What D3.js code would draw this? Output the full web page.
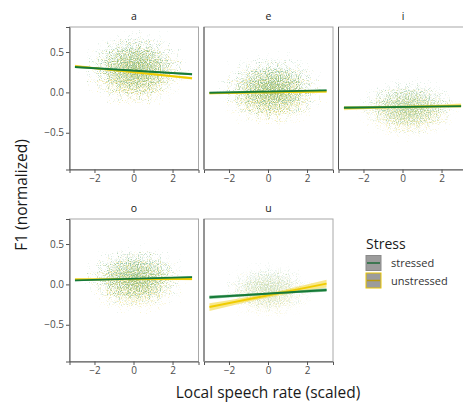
<!DOCTYPE html>
<html>
<head>
<meta charset="utf-8">
<script src="https://cdn.jsdelivr.net/npm/d3@7"></script>
<style>
  body { margin: 0; background: #fff; }
  text { font-family: "Open Sans", "Noto Sans", sans-serif; }
</style>
</head>
<body>
<svg id="chart" width="463" height="403"></svg>
<script>
// ---- data ----
var vowels = ['a', 'e', 'i', 'o', 'u'];
var stressLevels = ['stressed', 'unstressed'];
var xTicks = [-2, 0, 2];
var yTicks = [-0.5, 0, 0.5];

// fitted line: F1 at rate = -3 and rate = +3, per vowel
var fitStressedStart   = [0.315, -0.005, -0.19, 0.05, -0.16];
var fitStressedEnd     = [0.225,  0.025, -0.17, 0.09, -0.07];
var fitUnstressedStart = [0.325, -0.010, -0.195, 0.062, -0.28];
var fitUnstressedEnd   = [0.175,  0.012, -0.165, 0.066,  0.01];
// ribbon half width at the ends
var ciStressed   = [0.014, 0.010, 0.014, 0.012, 0.022];
var ciUnstressed = [0.016, 0.012, 0.026, 0.014, 0.048];

// point clouds: centre and reach (data units), per vowel
var cloudMeanX = [0.1, 0.2, 0.3, 0.1, 0.0];
var cloudMeanY = [0.28, 0.02, -0.2, 0.06, -0.08];
var cloudSpreadX = [3.3, 3.4, 3.3, 3.2, 3.0];
var cloudSpreadY = [0.58, 0.55, 0.45, 0.52, 0.42];
var cloudStrength = [0.95, 0.95, 0.7, 0.9, 0.42];

var lineColor = { stressed: '#167a38', unstressed: '#f0cc00' };
var ribbonColor = { stressed: '#3f9e5e', unstressed: '#f3d940' };
var dotColor = { stressed: '#2f8f52', unstressed: '#e3c81e' };

// ---- layout ----
var svg = d3.select('#chart');
var panelW = 129, panelH = 142.5;
var colLeft = [69.5, 204, 338.5];
var rowTop = [27, 219];

var x = d3.scaleLinear().domain([-3.28, 3.33]).range([0, panelW]);
var y = d3.scaleLinear().domain([-0.955, 0.81]).range([panelH, 0]);

var defs = svg.append('defs');

var grad = defs.append('radialGradient').attr('id', 'cloudGrad');
grad.append('stop').attr('offset', '0%').attr('stop-color', '#000').attr('stop-opacity', 1);
grad.append('stop').attr('offset', '40%').attr('stop-color', '#000').attr('stop-opacity', 0.8);
grad.append('stop').attr('offset', '75%').attr('stop-color', '#000').attr('stop-opacity', 0.45);
grad.append('stop').attr('offset', '100%').attr('stop-color', '#000').attr('stop-opacity', 0.15);

// speckle filter: noise masked by the cloud's alpha -> scattered dots
stressLevels.forEach(function (s, si) {
    var f = defs.append('filter').attr('id', 'speck-' + s)
        .attr('x', '-5%').attr('y', '-5%').attr('width', '110%').attr('height', '110%');
    f.append('feTurbulence').attr('type', 'fractalNoise')
        .attr('baseFrequency', 0.9).attr('numOctaves', 1).attr('seed', 4 + si * 7)
        .attr('result', 'n');
    f.append('feColorMatrix').attr('in', 'n').attr('type', 'matrix')
        .attr('values', '0 0 0 0 0  0 0 0 0 0  0 0 0 0 0  0 0 0 1 0').attr('result', 'na');
    f.append('feComposite').attr('in', 'na').attr('in2', 'SourceAlpha')
        .attr('operator', 'arithmetic').attr('k2', 1).attr('k3', 0.62).attr('k4', -0.94)
        .attr('result', 'm');
    f.append('feColorMatrix').attr('in', 'm').attr('type', 'matrix')
        .attr('values', '0 0 0 0 0  0 0 0 0 0  0 0 0 0 0  0 0 0 4 0').attr('result', 'mt');
    f.append('feFlood').attr('flood-color', dotColor[s]).attr('flood-opacity', 0.5);
    f.append('feComposite').attr('in2', 'mt').attr('operator', 'in');
});

vowels.forEach(function (v, i) {
    var col = i % 3, row = Math.floor(i / 3);
    var g = svg.append('g')
        .attr('transform', 'translate(' + colLeft[col] + ',' + rowTop[row] + ')');

    defs.append('clipPath').attr('id', 'clip-' + v)
        .append('rect').attr('width', panelW).attr('height', panelH);

    // strip label
    g.append('text').attr('x', panelW / 2).attr('y', -7)
        .attr('text-anchor', 'middle').attr('font-size', 10.5).attr('fill', '#1a1a1a')
        .text(v);

    var plot = g.append('g').attr('clip-path', 'url(#clip-' + v + ')');

    // point clouds (unstressed underneath)
    stressLevels.slice().reverse().forEach(function (s) {
        var shift = s === 'stressed' ? 0.025 : -0.03;
        plot.append('ellipse')
            .attr('cx', x(cloudMeanX[i]))
            .attr('cy', y(cloudMeanY[i] + shift))
            .attr('rx', x(cloudSpreadX[i]) - x(0))
            .attr('ry', y(0) - y(cloudSpreadY[i]))
            .attr('fill', 'url(#cloudGrad)')
            .attr('opacity', cloudStrength[i])
            .attr('filter', 'url(#speck-' + s + ')');
    });

    // ribbons and lines
    var fits = [
        { s: 'unstressed', a: fitUnstressedStart[i], b: fitUnstressedEnd[i], ci: ciUnstressed[i] },
        { s: 'stressed', a: fitStressedStart[i], b: fitStressedEnd[i], ci: ciStressed[i] }
    ];
    fits.forEach(function (f) {
        var pts = [-3, 0, 3].map(function (r) {
            var t = (r + 3) / 6;
            var mid = f.a + (f.b - f.a) * t;
            var w = f.ci * (0.55 + 0.45 * Math.abs(r) / 3);
            return { r: r, mid: mid, lo: mid - w, hi: mid + w };
        });
        plot.append('path')
            .attr('d', d3.area().x(function (d) { return x(d.r); })
                .y0(function (d) { return y(d.lo); })
                .y1(function (d) { return y(d.hi); })
                .curve(d3.curveMonotoneX)(pts))
            .attr('fill', ribbonColor[f.s]).attr('opacity', 0.6);
    });
    fits.forEach(function (f) {
        plot.append('line')
            .attr('x1', x(-3)).attr('y1', y(f.a))
            .attr('x2', x(3)).attr('y2', y(f.b))
            .attr('stroke', lineColor[f.s]).attr('stroke-width', 1.9);
    });

    // panel border
    g.append('rect').attr('width', panelW).attr('height', panelH)
        .attr('fill', 'none').attr('stroke', '#a8a8a8').attr('stroke-width', 1);

    // axes
    var xa = g.append('g').attr('transform', 'translate(0,' + panelH + ')')
        .call(d3.axisBottom(x).tickValues(xTicks).tickSize(3.5).tickPadding(2)
            .tickFormat(function (d) { return d3.format('d')(d).replace('-', '\u2212'); }));
    xa.select('.domain').attr('stroke', '#555');
    xa.selectAll('.tick line').attr('stroke', '#555');
    xa.selectAll('.tick text').attr('font-size', 10).attr('fill', '#4d4d4d')
        .attr('font-family', '"Open Sans", sans-serif');

    if (col === 0) {
        var ya = g.append('g')
            .call(d3.axisLeft(y).tickValues(yTicks).tickSize(3.5).tickPadding(2)
                .tickFormat(function (d) { return d3.format('.1f')(d).replace('-', '\u2212'); }));
        ya.selectAll('.tick line').attr('stroke', '#555');
        ya.selectAll('.tick text').attr('font-size', 10).attr('fill', '#4d4d4d')
            .attr('font-family', '"Open Sans", sans-serif');
        ya.select('.domain').attr('stroke', '#555');
    } else {
        g.append('line').attr('x1', 0).attr('x2', 0).attr('y1', 0).attr('y2', panelH)
            .attr('stroke', '#555');
    }
});

// axis titles
svg.append('text').attr('x', 268).attr('y', 398)
    .attr('text-anchor', 'middle').attr('font-size', 15.5).attr('fill', '#1a1a1a')
    .text('Local speech rate (scaled)');
svg.append('text')
    .attr('transform', 'translate(27,195) rotate(-90)')
    .attr('text-anchor', 'middle').attr('font-size', 15.5).attr('fill', '#1a1a1a')
    .text('F1 (normalized)');

// legend
var leg = svg.append('g').attr('transform', 'translate(366,238)');
leg.append('text').attr('x', 0).attr('y', 11).attr('font-size', 14).attr('fill', '#1a1a1a')
    .text('Stress');
stressLevels.forEach(function (s, si) {
    var k = leg.append('g').attr('transform', 'translate(0,' + (17.5 + si * 17.5) + ')');
    k.append('rect').attr('width', 15).attr('height', 15)
        .attr('fill', '#9c9c9c')
        .attr('stroke', si === 0 ? '#8a8a8a' : '#e8c400').attr('stroke-width', 1);
    k.append('line').attr('x1', 1).attr('x2', 14).attr('y1', 7.5).attr('y2', 7.5)
        .attr('stroke', si === 0 ? '#1f6b3a' : '#b89a10').attr('stroke-width', 1.5);
    k.append('text').attr('x', 25).attr('y', 11.5).attr('font-size', 11).attr('fill', '#333')
        .text(s);
});
</script>
</body>
</html>
